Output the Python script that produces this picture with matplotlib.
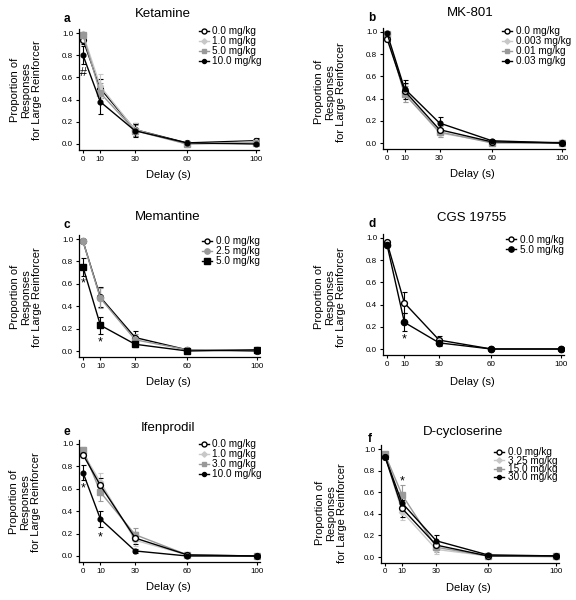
import matplotlib
matplotlib.use("Agg")
import matplotlib.pyplot as plt
from matplotlib.lines import Line2D
import numpy as np

plt.rcParams['font.family'] = ['Liberation Sans', 'DejaVu Sans']

delays = [0, 10, 30, 60, 100]
xtick_labels = ["0", "10", "30", "60", "100"]
yticks = [0.0, 0.2, 0.4, 0.6, 0.8, 1.0]

# ---- Panel a: Ketamine ----
ket_doses = ["0.0 mg/kg", "1.0 mg/kg", "5.0 mg/kg", "10.0 mg/kg"]
ket_0 = [0.94, 0.50, 0.13, 0.01, 0.03]
ket_0_err = [0.04, 0.09, 0.06, 0.01, 0.02]
ket_1 = [0.99, 0.52, 0.13, 0.00, 0.02]
ket_1_err = [0.01, 0.11, 0.06, 0.01, 0.01]
ket_5 = [0.98, 0.46, 0.12, 0.00, 0.01]
ket_5_err = [0.02, 0.09, 0.05, 0.01, 0.01]
ket_10 = [0.80, 0.38, 0.12, 0.01, 0.00]
ket_10_err = [0.08, 0.11, 0.06, 0.01, 0.01]

# ---- Panel b: MK-801 ----
mk_doses = ["0.0 mg/kg", "0.003 mg/kg", "0.01 mg/kg", "0.03 mg/kg"]
mk_0 = [0.94, 0.47, 0.12, 0.01, 0.00]
mk_0_err = [0.02, 0.07, 0.04, 0.01, 0.00]
mk_003 = [0.98, 0.45, 0.09, 0.01, 0.01]
mk_003_err = [0.01, 0.08, 0.04, 0.01, 0.01]
mk_01 = [0.98, 0.44, 0.10, 0.00, 0.00]
mk_01_err = [0.01, 0.07, 0.05, 0.01, 0.00]
mk_03 = [0.99, 0.49, 0.18, 0.02, 0.00]
mk_03_err = [0.01, 0.08, 0.05, 0.01, 0.00]

# ---- Panel c: Memantine ----
mem_doses = ["0.0 mg/kg", "2.5 mg/kg", "5.0 mg/kg"]
mem_0 = [0.98, 0.48, 0.12, 0.01, 0.00]
mem_0_err = [0.01, 0.09, 0.06, 0.01, 0.01]
mem_25 = [0.98, 0.47, 0.10, 0.01, 0.01]
mem_25_err = [0.01, 0.09, 0.05, 0.01, 0.01]
mem_5 = [0.75, 0.23, 0.06, 0.00, 0.01]
mem_5_err = [0.08, 0.075, 0.02, 0.01, 0.01]

# ---- Panel d: CGS 19755 ----
cgs_doses = ["0.0 mg/kg", "5.0 mg/kg"]
cgs_0 = [0.96, 0.415, 0.08, 0.00, 0.00]
cgs_0_err = [0.01, 0.095, 0.04, 0.00, 0.00]
cgs_5 = [0.94, 0.24, 0.055, 0.00, 0.00]
cgs_5_err = [0.01, 0.08, 0.03, 0.00, 0.00]

# ---- Panel e: Ifenprodil ----
ifen_doses = ["0.0 mg/kg", "1.0 mg/kg", "3.0 mg/kg", "10.0 mg/kg"]
ifen_0 = [0.905, 0.63, 0.16, 0.01, 0.00]
ifen_0_err = [0.02, 0.07, 0.05, 0.01, 0.00]
ifen_1 = [0.92, 0.66, 0.14, 0.01, 0.00]
ifen_1_err = [0.02, 0.08, 0.05, 0.01, 0.00]
ifen_3 = [0.95, 0.57, 0.19, 0.01, 0.00]
ifen_3_err = [0.02, 0.08, 0.06, 0.01, 0.00]
ifen_10 = [0.745, 0.33, 0.045, 0.00, 0.00]
ifen_10_err = [0.065, 0.075, 0.02, 0.00, 0.00]

# ---- Panel f: D-cycloserine ----
dcs_doses = ["0.0 mg/kg", "3.25 mg/kg", "15.0 mg/kg", "30.0 mg/kg"]
dcs_0 = [0.93, 0.45, 0.11, 0.01, 0.01]
dcs_0_err = [0.02, 0.08, 0.04, 0.01, 0.01]
dcs_325 = [0.94, 0.42, 0.07, 0.01, 0.00]
dcs_325_err = [0.02, 0.08, 0.04, 0.01, 0.01]
dcs_15 = [0.95, 0.575, 0.09, 0.01, 0.01]
dcs_15_err = [0.02, 0.09, 0.04, 0.01, 0.01]
dcs_30 = [0.93, 0.50, 0.15, 0.02, 0.01]
dcs_30_err = [0.02, 0.08, 0.05, 0.01, 0.01]

W, H = 576, 600
fig = plt.figure(figsize=(W / 100, H / 100), dpi=100)

XMIN, XMAX = -2.5, 101.5
YMIN, YMAX = -0.055, 1.04

STY_OPEN = dict(color="black", marker="o", mfc="white", mec="black", ms=4.2)
STY_LIGHT = dict(color="#c8c8c8", marker="D", mfc="#c8c8c8", mec="#c8c8c8", ms=3.2)
STY_GRAY = dict(color="#999999", marker="s", mfc="#999999", mec="#999999", ms=3.8)
STY_BLACKD = dict(color="black", marker="o", mfc="black", mec="black", ms=3.4)
STY_GRAYC = dict(color="#999999", marker="o", mfc="#999999", mec="#999999", ms=4.5)
STY_BLACKS = dict(color="black", marker="s", mfc="black", mec="black", ms=4.5)
STY_BLACKC = dict(color="black", marker="o", mfc="black", mec="black", ms=4.5)


def make_axes(x0, x100, y1, y0):
    sx = (x100 - x0) / 100.0
    sy = (y0 - y1)
    left = x0 + XMIN * sx
    right = x0 + XMAX * sx
    top = y0 - YMAX * sy
    bottom = y0 - YMIN * sy
    ax = fig.add_axes([left / W, 1 - bottom / H, (right - left) / W, (bottom - top) / H])
    ax.set_xlim(XMIN, XMAX)
    ax.set_ylim(YMIN, YMAX)
    for s in ["top", "right"]:
        ax.spines[s].set_visible(False)
    for s in ["left", "bottom"]:
        ax.spines[s].set_linewidth(0.9)
    ax.set_xticks(delays)
    ax.set_xticklabels(xtick_labels)
    ax.set_yticks(yticks)
    ax.set_yticklabels(["%.1f" % v for v in yticks])
    ax.tick_params(direction="out", length=2.5, width=0.8, labelsize=5.8, pad=1.5)
    ax.patch.set_alpha(0)
    return ax


def fx(px):
    return px / W


def fy(py):
    return 1 - py / H


def decorate(ax, letter, lpos, title, tpos, ylpos, xlpos):
    fig.text(fx(lpos[0]), fy(lpos[1]), letter, fontsize=8.5, fontweight="bold",
             ha="center", va="center")
    fig.text(fx(tpos[0]), fy(tpos[1]), title, fontsize=9.5, ha="center", va="center")
    fig.text(fx(ylpos[0]), fy(ylpos[1]), "Proportion of\nResponses\nfor Large Reinforcer",
             fontsize=8, rotation=90, ha="center", va="center", linespacing=1.15,
             multialignment="center")
    fig.text(fx(xlpos[0]), fy(xlpos[1]), "Delay (s)", fontsize=8, ha="center", va="center")


def plot_series(ax, series):
    handles = []
    for y, err, sty, lab in series:
        ax.errorbar(delays, y, yerr=err, capsize=1.8, elinewidth=0.8, capthick=0.8,
                    lw=1.0, **sty)
        lsty = dict(sty)
        lsty["ms"] = sty["ms"] * 0.85
        handles.append(Line2D([], [], lw=1.0, **lsty))
    return handles


def add_legend(ax, handles, labels, pos, spacing=0.0):
    ax.legend(handles, labels, loc="upper left", bbox_to_anchor=(fx(pos[0]), fy(pos[1])),
              bbox_transform=fig.transFigure, frameon=False, fontsize=7.2,
              borderpad=0, borderaxespad=0, handlelength=1.0, handletextpad=0.35,
              labelspacing=spacing)


# Panel a
ax = make_axes(83, 256, 33, 144)
hs = plot_series(ax, [(ket_0, ket_0_err, STY_OPEN, ket_doses[0]),
                      (ket_1, ket_1_err, STY_LIGHT, ket_doses[1]),
                      (ket_5, ket_5_err, STY_GRAY, ket_doses[2]),
                      (ket_10, ket_10_err, STY_BLACKD, ket_doses[3])])
add_legend(ax, hs, ket_doses, (199, 26))
ax.text(delays[0], 0.64, "#", fontsize=9, ha="center", va="center")
decorate(ax, "a", (67, 19), "Ketamine", (163, 14), (26, 90), (168, 175))

# Panel b
ax = make_axes(387, 562, 32, 143)
hs = plot_series(ax, [(mk_003, mk_003_err, STY_LIGHT, mk_doses[1]),
                      (mk_01, mk_01_err, STY_GRAY, mk_doses[2]),
                      (mk_0, mk_0_err, STY_OPEN, mk_doses[0]),
                      (mk_03, mk_03_err, STY_BLACKD, mk_doses[3])])
add_legend(ax, [hs[2], hs[0], hs[1], hs[3]], mk_doses, (502, 26))
decorate(ax, "b", (372, 18), "MK-801", (470, 13), (330, 92), (472, 174))

# Panel c
ax = make_axes(83, 257, 239, 351)
hs = plot_series(ax, [(mem_0, mem_0_err, STY_OPEN, mem_doses[0]),
                      (mem_25, mem_25_err, STY_GRAYC, mem_doses[1]),
                      (mem_5, mem_5_err, STY_BLACKS, mem_doses[2])])
add_legend(ax, hs, mem_doses, (202, 236))
ax.text(delays[0], 0.60, "*", fontsize=9, ha="center", va="center")
ax.text(delays[1], 0.08, "*", fontsize=9, ha="center", va="center")
decorate(ax, "c", (67, 225), "Memantine", (168, 217), (26, 297), (168, 382))

# Panel d
ax = make_axes(387, 561, 238, 349)
hs = plot_series(ax, [(cgs_0, cgs_0_err, STY_OPEN, cgs_doses[0]),
                      (cgs_5, cgs_5_err, STY_BLACKC, cgs_doses[1])])
add_legend(ax, hs, cgs_doses, (506, 235))
ax.text(delays[1], 0.09, "*", fontsize=9, ha="center", va="center")
decorate(ax, "d", (372, 224), "CGS 19755", (472, 218), (330, 297), (472, 382))

# Panel e
ax = make_axes(83, 257, 444, 556)
hs = plot_series(ax, [(ifen_1, ifen_1_err, STY_LIGHT, ifen_doses[1]),
                      (ifen_3, ifen_3_err, STY_GRAY, ifen_doses[2]),
                      (ifen_0, ifen_0_err, STY_OPEN, ifen_doses[0]),
                      (ifen_10, ifen_10_err, STY_BLACKD, ifen_doses[3])])
add_legend(ax, [hs[2], hs[0], hs[1], hs[3]], ifen_doses, (199, 439))
ax.text(delays[0], 0.60, "*", fontsize=9, ha="center", va="center")
ax.text(delays[1], 0.17, "*", fontsize=9, ha="center", va="center")
decorate(ax, "e", (67, 432), "Ifenprodil", (168, 428), (25, 502), (168, 587))

# Panel f
ax = make_axes(385, 556, 449, 557)
hs = plot_series(ax, [(dcs_325, dcs_325_err, STY_LIGHT, dcs_doses[1]),
                      (dcs_15, dcs_15_err, STY_GRAY, dcs_doses[2]),
                      (dcs_0, dcs_0_err, STY_OPEN, dcs_doses[0]),
                      (dcs_30, dcs_30_err, STY_BLACKD, dcs_doses[3])])
add_legend(ax, [hs[2], hs[0], hs[1], hs[3]], dcs_doses, (494, 447), spacing=-0.15)
ax.text(delays[1], 0.70, "*", fontsize=9, ha="center", va="center")
decorate(ax, "f", (370, 439), "D-cycloserine", (463, 432), (331, 513), (468, 588))

fig.savefig("out.png", dpi=100)
